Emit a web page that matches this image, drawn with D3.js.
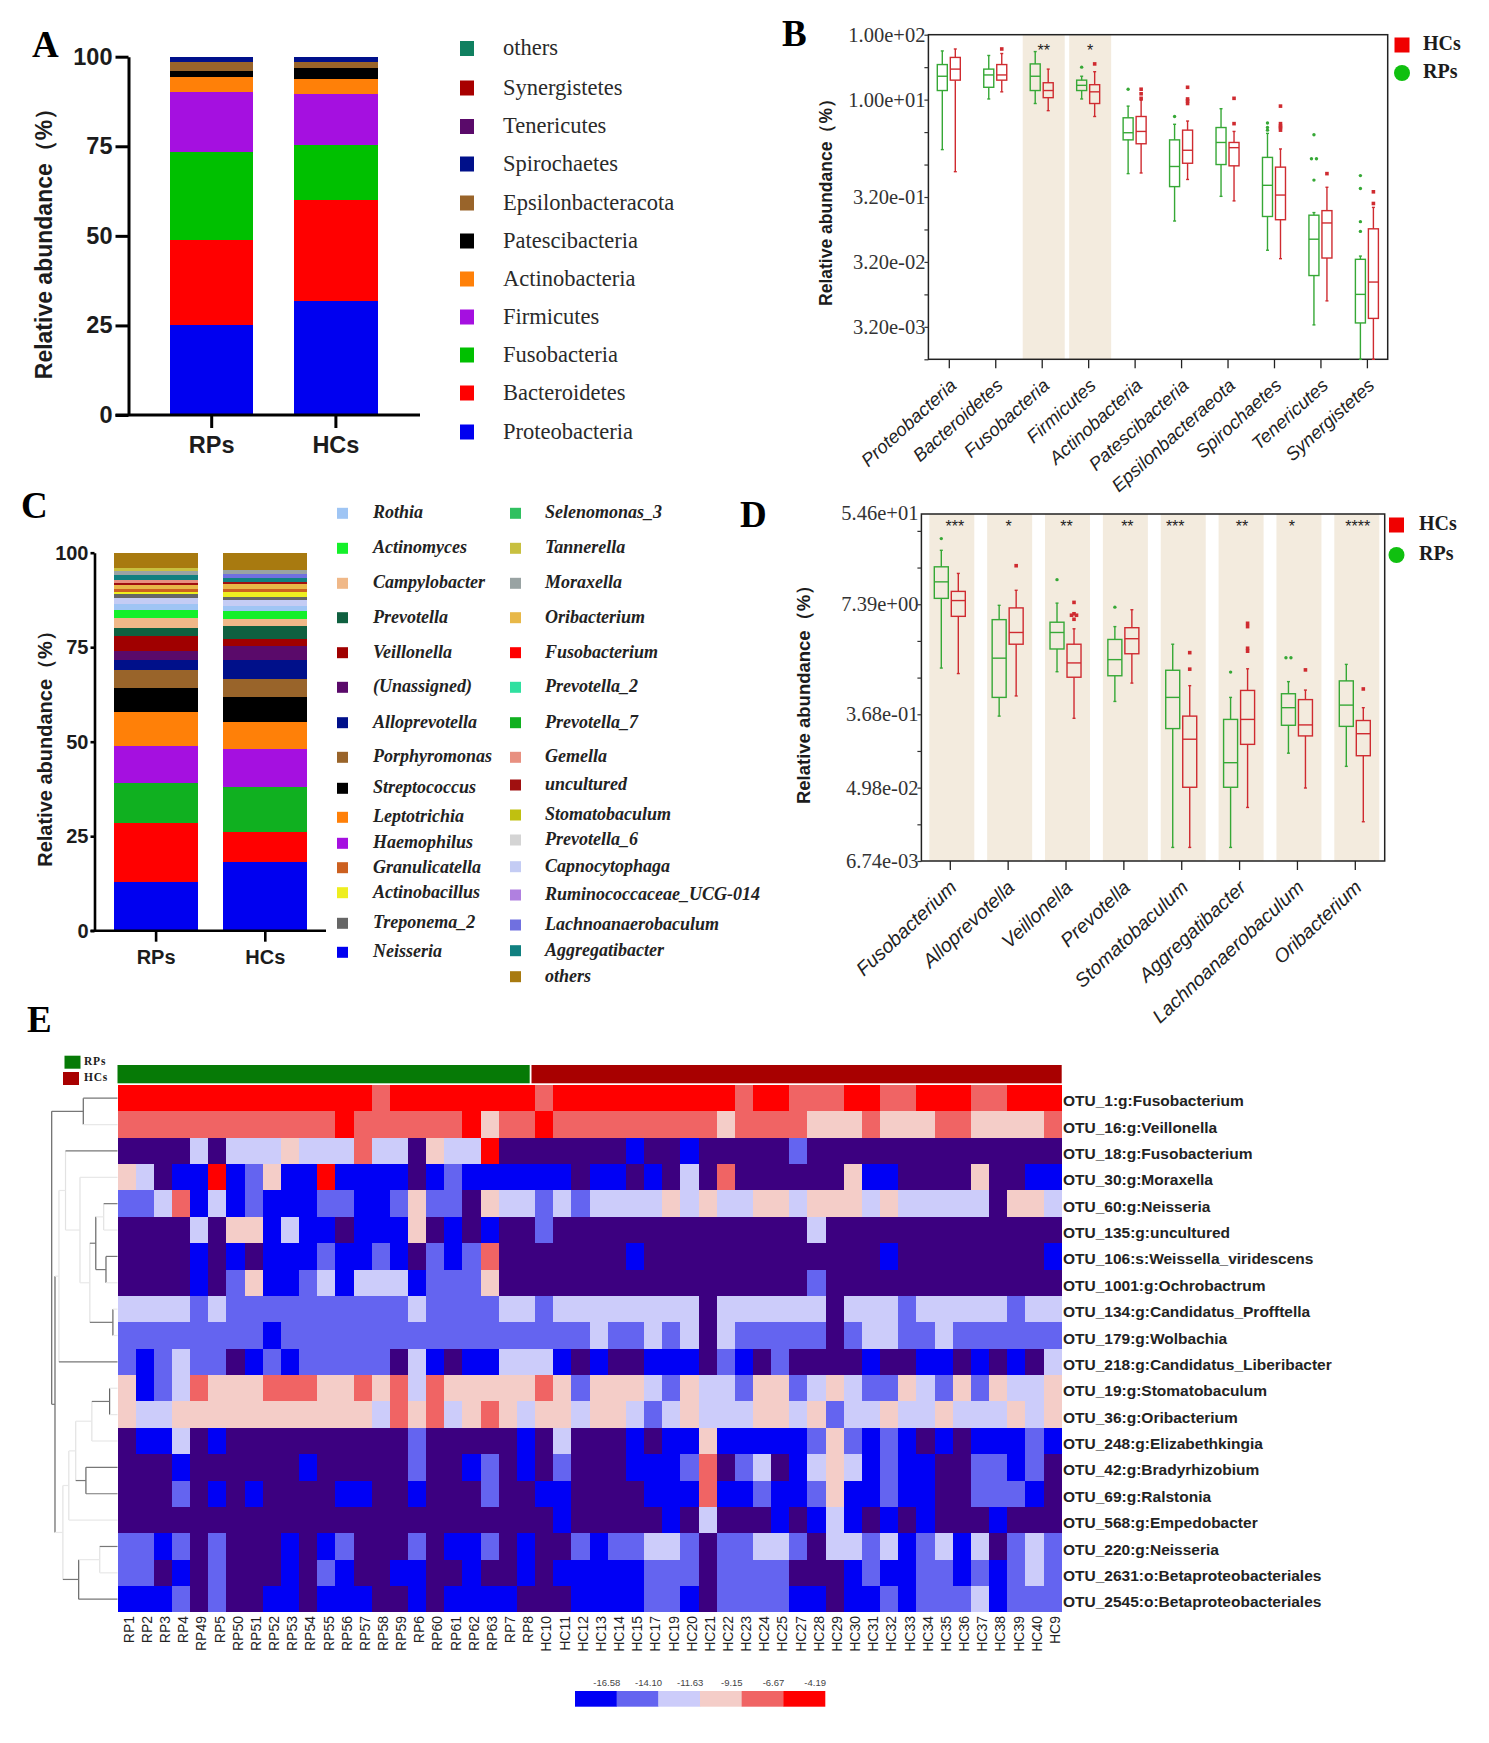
<!DOCTYPE html>
<html><head><meta charset="utf-8">
<script src="https://cdn.jsdelivr.net/npm/d3@7/dist/d3.min.js"></script>
<style>
html,body{margin:0;padding:0;background:#fff}
svg{display:block}
text{fill:#1c1c1c}
</style></head><body>
<svg id="fig" width="1489" height="1743"></svg>
<script>
// ---------- Panel A ----------
const groups = ["RPs","HCs"];
const phyla = ["Proteobacteria","Bacteroidetes","Fusobacteria","Firmicutes","Actinobacteria","Patescibacteria","Epsilonbacteracota","Spirochaetes","Tenericutes","Synergistetes","others"];
const phylaRP = [25,23.8,24.7,16.7,4.0,1.9,2.5,1.2,0.1,0.05,0.05];
const phylaHC = [31.8,28.1,15.4,14.3,4.3,2.9,1.8,1.2,0.1,0.05,0.05];
const phylaColors = ["#0000f0","#ff0000","#00c000","#a510e0","#ff8008","#000000","#99642a","#00108a","#5a0a6a","#a80000","#108060"];

// ---------- Panel B (log10 of relative abundance: upper whisker, Q3, median, Q1, lower whisker) ----------
const bCats = ["Proteobacteria","Bacteroidetes","Fusobacteria","Firmicutes","Actinobacteria","Patescibacteria","Epsilonbacteraeota","Spirochaetes","Tenericutes","Synergistetes"];
const bRP = [[1.75,1.54,1.36,1.14,0.23],[1.68,1.47,1.38,1.19,1.01],[1.74,1.55,1.36,1.14,0.94],[1.36,1.30,1.22,1.14,1.01],[0.90,0.72,0.49,0.38,-0.14],[0.62,0.38,-0.03,-0.34,-0.87],[0.86,0.57,0.34,0.00,-0.49],[0.48,0.11,-0.32,-0.80,-1.32],[-0.74,-0.78,-1.15,-1.71,-2.47],[-1.41,-1.46,-2.00,-2.44,-3.00]];
const bHC = [[1.78,1.65,1.47,1.30,-0.11],[1.71,1.54,1.38,1.30,1.12],[1.47,1.26,1.14,1.03,0.83],[1.43,1.23,1.12,0.94,0.74],[0.99,0.74,0.51,0.32,-0.13],[0.67,0.53,0.22,0.02,-0.23],[0.51,0.34,0.26,-0.02,-0.56],[0.24,-0.04,-0.47,-0.85,-1.45],[-0.35,-0.71,-0.90,-1.44,-2.10],[-0.66,-0.99,-1.81,-2.37,-3.00]];
const bRPOut = [[],[],[],[1.50],[1.16],[0.74],[],[0.64,0.57,0.53],[0.46,0.09,0.09,-0.24],[-0.17,-0.37,-0.88,-1.03]];
const bHCOut = [[],[1.78],[],[1.55],[1.16,1.09,1.02],[1.19,1.01,0.98,0.94],[1.02,0.63],[0.90,0.63,0.59,0.57,0.53],[-0.14],[-0.42,-0.60]];
const bShaded = ["Fusobacteria","Firmicutes"];
const bStars = ["","","**","*","","","","","",""];
const bTickExponents = [2,1.5,1,0.5,0,-0.5,-1,-1.5,-2,-2.5,-3];
const bTickLabels = {"2":"1.00e+02","1":"1.00e+01","-0.5":"3.20e-01","-1.5":"3.20e-02","-2.5":"3.20e-03"};

// ---------- Panel C ----------
const genera = ["Neisseria","Fusobacterium","Prevotella_7","Haemophilus","Leptotrichia","Streptococcus","Porphyromonas","Alloprevotella","(Unassigned)","Veillonella","Prevotella","Campylobacter","Actinomyces","Rothia","Capnocytophaga","Treponema_2","Actinobacillus","Granulicatella","Oribacterium","uncultured","Gemella","Aggregatibacter","Lachnoanaerobaculum","Moraxella","Tannerella","others"];
const generaRP = [13.0,15.6,10.4,9.9,9.0,6.2,4.8,2.6,2.5,4.0,2.2,2.5,2.2,1.6,1.5,1.0,0.7,0.6,1.15,0.6,0.7,1.23,0,1.24,0.7,4.08];
const generaHC = [18.2,7.9,12.0,9.9,7.1,6.7,4.8,4.9,3.7,2.1,3.2,1.9,2.2,1.3,1.6,0.8,1.4,0.7,1.2,0.56,0,1.04,1.26,1.04,0,4.5];
const legendC1 = ["Rothia","Actinomyces","Campylobacter","Prevotella","Veillonella","(Unassigned)","Alloprevotella","Porphyromonas","Streptococcus","Leptotrichia","Haemophilus","Granulicatella","Actinobacillus","Treponema_2","Neisseria"];
const legendC1Colors = ["#9fc5f4","#14f02a","#f0b888","#0f6040","#a00000","#5a0a6a","#00108a","#99642a","#000000","#ff8008","#a510e0","#cc6020","#eeee20","#666666","#0000f0"];
const legendC2 = ["Selenomonas_3","Tannerella","Moraxella","Oribacterium","Fusobacterium","Prevotella_2","Prevotella_7","Gemella","uncultured","Stomatobaculum","Prevotella_6","Capnocytophaga","Ruminococcaceae_UCG-014","Lachnoanaerobaculum","Aggregatibacter","others"];
const legendC2Colors = ["#30c060","#c8c040","#99a3a3","#e8b848","#ff0000","#30e0a0","#10b020","#e89080","#a01010","#c0c010","#d4d4d4","#c4ccf4","#b080e0","#7070e0","#108080","#a87a10"];
const legendC1Y = [513.3,548.3,583.3,617.7,652.7,687.3,722.7,757.3,788.3,817.3,843.3,867.7,892.7,923.3,952.3];
const legendC2Y = [513.3,548.3,583.3,617.7,652.7,687.3,722.7,757.3,785,815,840,866.7,895,925,950.7,976.7];

// ---------- Panel D (natural log of relative abundance) ----------
const dCats = ["Fusobacterium","Alloprevotella","Veillonella","Prevotella","Stomatobaculum","Aggregatibacter","Lachnoanaerobaculum","Oribacterium"];
const dRP = [[3.47,3.02,2.61,2.16,0.26],[1.97,1.58,0.53,-0.54,-1.05],[2.03,1.51,1.23,0.78,0.16],[1.39,1.04,0.49,0.05,-0.65],[0.91,0.20,-0.54,-1.39,-4.63],[-0.54,-1.14,-2.32,-2.99,-4.63],[-0.11,-0.44,-0.82,-1.30,-2.06],[0.36,-0.09,-0.75,-1.33,-2.42]];
const dHC = [[2.84,2.35,2.10,1.67,0.11],[2.38,1.90,1.23,0.91,-0.50],[1.33,0.91,0.40,0.01,-1.11],[1.85,1.36,1.06,0.65,-0.15],[-0.22,-1.05,-1.68,-2.99,-4.63],[0.24,-0.35,-1.14,-1.82,-3.54],[-0.34,-0.60,-1.29,-1.59,-3.01],[-0.82,-1.17,-1.53,-2.13,-3.93]];
const dRPOut = [[3.79],[],[2.67],[1.92],[],[0.15],[0.54,0.54],[]];
const dHCOut = [[],[3.05],[2.05,1.74,1.70,1.70,1.59],[],[0.68,0.23],[1.48,1.39,0.80,0.72],[0.21],[-0.31]];
const dStars = ["***","*","**","**","***","**","*","****"];
const dTickExponents = [4,3,2,1,0,-1,-2,-3,-4,-5];
const dTickLabels = {"4":"5.46e+01","2":"7.39e+00","-1":"3.68e-01","-3":"4.98e-02","-5":"6.74e-03"};

// ---------- Panel E ----------
const heatCols = ["RP1","RP2","RP3","RP4","RP49","RP5","RP50","RP51","RP52","RP53","RP54","RP55","RP56","RP57","RP58","RP59","RP6","RP60","RP61","RP62","RP63","RP7","RP8","HC10","HC11","HC12","HC13","HC14","HC15","HC17","HC19","HC20","HC21","HC22","HC23","HC24","HC25","HC27","HC28","HC29","HC30","HC31","HC32","HC33","HC34","HC35","HC36","HC37","HC38","HC39","HC40","HC9"];
const heatRows = ["OTU_1:g:Fusobacterium","OTU_16:g:Veillonella","OTU_18:g:Fusobacterium","OTU_30:g:Moraxella","OTU_60:g:Neisseria","OTU_135:g:uncultured","OTU_106:s:Weissella_viridescens","OTU_1001:g:Ochrobactrum","OTU_134:g:Candidatus_Profftella","OTU_179:g:Wolbachia","OTU_218:g:Candidatus_Liberibacter","OTU_19:g:Stomatobaculum","OTU_36:g:Oribacterium","OTU_248:g:Elizabethkingia","OTU_42:g:Bradyrhizobium","OTU_69:g:Ralstonia","OTU_568:g:Empedobacter","OTU_220:g:Neisseria","OTU_2631:o:Betaproteobacteriales","OTU_2545:o:Betaproteobacteriales"];
// binned level per cell: 0 = absent, 1..6 = colour-bar bins
const heatLevels = [
"66666666666666 5 66666666 5 6666666666 5 66 555 66 55 666 55 666",
"555555555555 6 555555 6 4 55 6 555555555 4 5555 444 5 444 55 4444 5",
"0000 3 0 333 4 333 5 33 0 4 33 6 000 0000 1 00 1 00000 2 00000000000000",
"4 3 0 11 6 1 2 4 11 6 1111 0 1 2 11111 1 0 11 0 1 0 3 0 5 000000 4 11 0000 4 00 11",
"22 3 5 1 3 1 2 111 22 11 2 4 22 0 4 33 2 3 2 3333 4 3 4 33 44 3 444 3 4 33333 0 44 3",
"0000 3 0 44 1 3 11 0 111 4 0 1 0 1 00 2 00000000000000 3 0000000000000",
"0000 1 0 1 0 111 2 11 2 1 0 2 1 2 5 000 0000 1 0000000000000 1 00000000 1",
"0000 1 0 2 4 11 2 3 1 333 1 222 4 000 00000000000000 2 0000000000000",
"3333 2 3 2222222222 3 2222 33 2 33333333 0 333333 0 333 2 33333 2 33",
"22222222 1 222222222222222 22 3 22 3 2 3 0 3 22222 0 2 33 22 3 222222",
"2 1 2 3 22 0 1 2 1 22222 0 3 1 0 11 333 1 0 1 00 111 0 2 1 0 2 0000 1 00 11 0 1 0 1 0 3",
"4 1 2 3 5 444 555 44 5 4 5 3 5 44444 5 4 2 444 3 2 4 33 2 44 2 3 4 3 22 4 3 2 4 2 4 33 4",
"4 33 44444444444 3 5 4 5 3 4 5 4 3 4 4 3 44 3 2 3 4 333 44 3 4 2 33 4 33 4 333 4 3 4",
"0 11 3 0 1 0000000000 2 00000 1 0 3 000 1 0 11 4 11111 2 4 2 1 2 1 0 1 0 111 2 1",
"000 1 000000 1 00000 2 00 1 2 0 1 0 2 000 111 2 5 0 2 3 0 1 3 4 3 1 2 11 00 22 1 2 0",
"000 2 0 1 0 1 0000 11 00 1 000 2 00 1 1 0000 111 5 11 2 11 2 4 11 2 11 00 222 1 0",
"000000000000000000000000 1 00000 1 0 3 000 1 0 1 3 1 0 1 0 1 000 1 000",
"22 1 2 0 2 000 1 0 1 2 000 2 0 11 2 0 1 0 0 2 1 22 33 2 0 22 33 2 0 33 2 3 1 2 3 1 3 0 2 3 2",
"22 0 1 0 2 000 1 0 2 1 00 11 00 1 00 1 0 11111 222 0 2222 000 1 2 11 22 1 2 1 2 3 2",
"111 2 0 2 00 11 0 111 00 1 0 1111 00 0 1111 22 1 0 2222 11 0 11 2 1 222 3 1 222"
].map(s => s.replace(/\s/g,"").split("").map(Number));
const heatBins = ["-16.58","-14.10","-11.63","-9.15","-6.67","-4.19"];
const heatColors = ["#3c0080","#0000f5","#6464f0","#ccccfa","#f4cdc8","#f06464","#ff0000"];
const groupSpans = [{name:"RPs",from:0,to:22.7,color:"#067a06"},{name:"HCs",from:22.8,to:52,color:"#a80000"}];
// row dendrogram: h = merge height, kids = sub-clusters or row indices
const N = (h,kids)=>({h,kids});
const rowTree = N(1.00,[
  N(.52,[0,1]),
  N(.95,[
    N(.89,[ N(.79,[2, N(.57,[3, N(.42,[ N(.33,[N(.21,[4,5]),N(.175,[6,7])]), N(.07,[8,9]) ]) ]) ]), 10 ]),
    N(.83,[ N(.74,[ N(.635,[ N(.39,[N(.12,[11,12]),13]), N(.48,[14,15]) ]), 16 ]), N(.59,[N(.27,[17,18]),19]) ])
  ])
]);
const darkHeights = [1,.95,.52,.175,.07,.48,.12,.59,.33];
const darkLeaves = [0,2,4,6,10,14,15,19,17];

// ========== drawing ==========
const svg = d3.select("#fig");
const SANS = "'Liberation Sans',Arial,sans-serif", SERIF = "'Liberation Serif','Times New Roman',serif";
const Y_TITLE = "Relative abundance（%）";
function panelLetter(t,x,y){ svg.append("text").text(t).attr("x",x).attr("y",y).attr("font-family",SERIF).attr("font-weight","bold").attr("font-size",37).style("fill","#000"); }
panelLetter("A",32,57); panelLetter("B",782,46); panelLetter("C",21,518); panelLetter("D",740,527); panelLetter("E",27,1032);

function stackedPanel(cfg){
  const g = svg.append("g");
  const y = d3.scaleLinear().domain([0,100]).range(cfg.yr);
  const x = d3.scaleBand().domain(groups).range(cfg.xr).paddingInner(cfg.pad).paddingOuter(cfg.pad/2);
  const rows = groups.map((n,i)=>{ const o={group:n}; cfg.names.forEach((s,k)=>o[s]=(i?cfg.hc:cfg.rp)[k]); return o; });
  const layers = d3.stack().keys(cfg.names)(rows);
  g.selectAll("g.l").data(layers).join("g").attr("fill",(d,i)=>cfg.colors[i])
    .selectAll("rect").data(d=>d).join("rect")
    .attr("x",d=>x(d.data.group)).attr("width",x.bandwidth())
    .attr("y",d=>y(d[1])).attr("height",d=>Math.max(0,y(d[0])-y(d[1]))).attr("shape-rendering","crispEdges");
  const ya = g.append("g").attr("transform",`translate(${cfg.ax},0)`)
    .call(d3.axisLeft(y).tickValues([0,25,50,75,100]).tickSize(cfg.yTick).tickSizeOuter(0));
  const xa = g.append("g").attr("transform",`translate(0,${cfg.yr[0]})`)
    .call(d3.axisBottom(x).tickSize(cfg.tick).tickSizeOuter(0));
  xa.select(".domain").attr("d",`M${cfg.ax-cfg.yTick},0H${cfg.xEnd}`);
  [ya,xa].forEach(a=>{ a.selectAll("path,line").attr("stroke","#000").attr("stroke-width",cfg.sw);
    a.selectAll("text").attr("font-family",SANS).attr("font-weight","bold").attr("font-size",cfg.fs); });
  ya.selectAll("text").attr("x",-cfg.yTick-cfg.yGap);
  xa.selectAll("text").attr("y",cfg.tick+8);
  g.append("text").text(Y_TITLE)
    .attr("transform",`translate(${cfg.labX},${(cfg.lab[0]+cfg.lab[1])/2}) rotate(-90)`)
    .attr("text-anchor","middle").attr("dominant-baseline","middle").attr("font-family",SANS).attr("font-weight","bold").attr("font-size",cfg.labFs);
  return g;
}
stackedPanel({names:phyla,rp:phylaRP,hc:phylaHC,colors:phylaColors,yr:[415,56.7],xr:[149.6,398],pad:.329,ax:128.5,tick:13,yTick:13,yGap:3,sw:3,xEnd:420,fs:23.5,labX:46,lab:[97,379],labFs:23});
stackedPanel({names:genera,rp:generaRP,hc:generaHC,
  colors:genera.map(n=>{const a=legendC1.indexOf(n); if(a>=0)return legendC1Colors[a]; return legendC2Colors[legendC2.indexOf(n)];}),
  yr:[930.7,552.7],xr:[101.5,319.9],pad:.229,ax:94.5,tick:11,yTick:4,yGap:2,sw:2.6,xEnd:326,fs:20,labX:47,lab:[623,865],labFs:20});

// legend A
const legendAY = [50,89.5,128,165.5,204.5,242.5,280.5,318.5,356.5,394.5,433.5];
const legendAOrder = phyla.slice().reverse();
svg.append("g").selectAll("g").data(legendAOrder).join("g").attr("transform",(d,i)=>`translate(0,${legendAY[i]})`)
  .each(function(d){ const s=d3.select(this), i=phyla.indexOf(d);
    s.append("rect").attr("x",460).attr("y",-9).attr("width",14).attr("height",15).attr("fill",phylaColors[i]);
    s.append("text").text(d).attr("x",503).attr("dominant-baseline","middle").attr("font-family",SERIF).attr("font-size",22.5).style("fill","#2a2a2a");
  });
// legend C
function legendC(names,colors,ys,sx,tx){
  svg.append("g").selectAll("g").data(names).join("g").attr("transform",(d,i)=>`translate(0,${ys[i]})`)
   .each(function(d,i){ const s=d3.select(this);
    s.append("rect").attr("x",sx).attr("y",-5.5).attr("width",11).attr("height",11).attr("fill",colors[i]);
    s.append("text").text(d).attr("x",tx).attr("y",1).attr("dominant-baseline","middle").attr("font-family",SERIF).attr("font-style","italic").attr("font-weight","bold").attr("font-size",18).style("fill","#222");
   });
}
legendC(legendC1,legendC1Colors,legendC1Y,337,373);
legendC(legendC2,legendC2Colors,legendC2Y,510,545);

// box panels
const GREEN="#36a836", RED="#cf2b30";
function boxPanel(c){
  const g = svg.append("g");
  const y = d3.scaleLog().base(c.base).domain(c.domain.map(e=>Math.pow(c.base,e))).range(c.yr);
  const yv = e => y(Math.pow(c.base,e));
  const x = d3.scalePoint().domain(c.cats).range(c.xr);
  // shaded significance bands
  g.selectAll("rect.band").data(c.cats.filter(c.isShaded)).join("rect").attr("class","band")
    .attr("x",d=>x(d)+c.bandOff-c.bandW/2).attr("width",c.bandW).attr("y",c.yr[1]).attr("height",c.yr[0]-c.yr[1]).attr("fill","#f3ebde");
  // frame + axes
  g.append("rect").attr("x",c.frame[0]).attr("y",c.yr[1]).attr("width",c.frame[1]-c.frame[0]).attr("height",c.yr[0]-c.yr[1]).attr("fill","none").attr("stroke","#222").attr("stroke-width",1.5);
  const ya = g.append("g").attr("transform",`translate(${c.frame[0]},0)`)
    .call(d3.axisLeft(y).tickValues(c.tickExp.map(e=>Math.pow(c.base,e))).tickSize(4).tickSizeOuter(0)
      .tickFormat((v,i)=>c.tickLabels[String(c.tickExp[i])]||""));
  ya.select(".domain").remove();
  ya.selectAll("line").attr("stroke","#333").attr("stroke-width",1.2);
  ya.selectAll("text").attr("font-family",SERIF).attr("font-size",c.tickFs).attr("x",-3).style("fill","#333")
    .attr("dy",(v,i)=>c.tickExp[i]===c.topExp?c.topDy:"0.32em");
  const xa = g.append("g").attr("transform",`translate(0,${c.yr[0]})`).call(d3.axisBottom(x).tickSize(9).tickSizeOuter(0));
  xa.select(".domain").remove();
  xa.selectAll("line").attr("stroke","#222").attr("stroke-width",1.3);
  xa.selectAll("text").attr("font-family",SANS).attr("font-size",c.labFs).attr("font-style","italic").attr("text-anchor","end").attr("y",0).attr("dy","0.35em")
    .attr("transform",`translate(${c.labDx},${c.labDy}) rotate(${c.labRot})`).style("fill","#222");
  // boxes
  [[c.rp,c.rpOut,-c.dodge,GREEN,"circle"],[c.hc,c.hcOut,c.dodge,RED,"square"]].forEach(([stats,outs,off,col,shape])=>{
    const s = g.append("g").attr("stroke",col).attr("fill","none").attr("stroke-width",1.4);
    c.cats.forEach((cat,i)=>{
      const [wh,q3,med,q1,wl]=stats[i], cx=x(cat)+off, w=c.boxW;
      s.append("line").attr("x1",cx).attr("x2",cx).attr("y1",yv(wh)).attr("y2",yv(q3));
      s.append("line").attr("x1",cx).attr("x2",cx).attr("y1",yv(q1)).attr("y2",yv(wl));
      [wh,wl].forEach(v=>s.append("line").attr("x1",cx-1.5).attr("x2",cx+1.5).attr("y1",yv(v)).attr("y2",yv(v)));
      s.append("rect").attr("x",cx-w/2).attr("width",w).attr("y",yv(q3)).attr("height",yv(q1)-yv(q3));
      s.append("line").attr("x1",cx-w/2).attr("x2",cx+w/2).attr("y1",yv(med)).attr("y2",yv(med));
      outs[i].forEach((v,k)=>{
        const dup = outs[i].filter(u=>u===v).length>1, ox = dup ? (outs[i].indexOf(v)===k?-2.5:2.5) : 0;
        if(shape==="circle") g.append("circle").attr("cx",cx+ox).attr("cy",yv(v)).attr("r",1.7).attr("fill",col);
        else g.append("rect").attr("x",cx+ox-1.8).attr("y",yv(v)-1.8).attr("width",3.6).attr("height",3.6).attr("fill",col);
      });
    });
  });
  // significance stars
  g.selectAll("text.star").data(c.cats).join("text").attr("class","star").text((d,i)=>c.stars[i])
    .attr("x",(d,i)=>x(d)+c.starOff[i]).attr("y",c.starY).attr("text-anchor","middle").attr("font-family",SANS).attr("font-size",c.starFs).style("fill","#222");
  // y title
  g.append("text").text(Y_TITLE).attr("transform",`translate(${c.titleX},${c.titleY}) rotate(-90)`)
    .attr("text-anchor","middle").attr("dominant-baseline","middle").attr("font-family",SANS).attr("font-weight","bold").attr("font-size",c.titleFs);
  // legend
  g.append("rect").attr("x",c.leg[0]).attr("y",c.leg[1]-7.5).attr("width",15).attr("height",15).attr("fill","#f00000");
  g.append("circle").attr("cx",c.leg[0]+7.5).attr("cy",c.leg[2]).attr("r",8).attr("fill","#10c010");
  [["HCs",c.leg[1]],["RPs",c.leg[2]]].forEach(([t,ly])=>g.append("text").text(t).attr("x",c.leg[3]).attr("y",ly).attr("dominant-baseline","middle")
     .attr("font-family",SERIF).attr("font-weight","bold").attr("font-size",20));
}
boxPanel({base:10,domain:[-3,2],yr:[359.3,34.7],frame:[928.4,1387.7],cats:bCats,xr:[948.8,1366.9],rp:bRP,hc:bHC,rpOut:bRPOut,hcOut:bHCOut,
  isShaded:d=>bShaded.includes(d),bandOff:2,bandW:42,tickExp:bTickExponents,tickLabels:bTickLabels,topExp:null,topDy:0,tickFs:20.5,
  labFs:18.5,labDx:4,labDy:23,labRot:-42,dodge:6.5,boxW:10,stars:bStars,starOff:bCats.map(()=>2),starY:56,starFs:16,
  titleX:827,titleY:198,titleFs:17.5,leg:[1394.5,45,73,1423]});
boxPanel({base:Math.E,domain:[-5,4.46],yr:[861,514],frame:[921.4,1384.7],cats:dCats,xr:[949.8,1354.8],rp:dRP,hc:dHC,rpOut:dRPOut,hcOut:dHCOut,
  isShaded:()=>true,bandOff:2,bandW:45,tickExp:dTickExponents,tickLabels:dTickLabels,topExp:4,topDy:"-0.55em",tickFs:20.5,
  labFs:19.5,labDx:3,labDy:23,labRot:-43,dodge:8.5,boxW:14,stars:dStars,starOff:[5,1,1,4,-6,3,-5,3],starY:532,starFs:16,
  titleX:805,titleY:690,titleFs:18.5,leg:[1389,525,555,1419]});

// heatmap
const H = svg.append("g");
const xH = d3.scaleBand().domain(heatCols).range([117.5,1061.7]);
const yH = d3.scaleBand().domain(heatRows).range([1085,1612.4]);
const colIndex = d3.scaleLinear().domain([0,heatCols.length]).range([117.5,1061.7]);
const colorH = d3.scaleOrdinal().domain(d3.range(7)).range(heatColors);
H.selectAll("rect.gb").data(groupSpans).join("rect").attr("class","gb")
  .attr("x",d=>colIndex(d.from)).attr("width",d=>colIndex(d.to)-colIndex(d.from)).attr("y",1065).attr("height",18.3).attr("fill",d=>d.color);
heatLevels.forEach((row,r)=>{
  H.append("g").attr("shape-rendering","crispEdges").selectAll("rect").data(row).join("rect")
    .attr("x",(d,c)=>xH(heatCols[c])).attr("y",yH(heatRows[r])).attr("width",xH.bandwidth()).attr("height",yH.bandwidth())
    .attr("fill",d=>colorH(d));
});
H.selectAll("text.rl").data(heatRows).join("text").attr("class","rl").text(d=>d).attr("x",1063).attr("y",d=>yH(d)+yH.bandwidth()/2+4)
  .attr("dominant-baseline","middle").attr("font-family",SANS).attr("font-weight","bold").attr("font-size",15.5).style("fill","#222");
H.selectAll("text.cl").data(heatCols).join("text").attr("class","cl").text(d=>d)
  .attr("transform",d=>`translate(${xH(d)+xH.bandwidth()/2+3.5},1616) rotate(-90)`).attr("text-anchor","end").attr("dominant-baseline","middle")
  .attr("font-family",SANS).attr("font-size",14).style("fill","#222");
// group key
[["RPs",64.5,1055.7,"#067a06"],["HCs",63,1072,"#a80000"]].forEach(([t,kx,ky,col])=>{
  H.append("rect").attr("x",kx).attr("y",ky).attr("width",16).attr("height",13).attr("fill",col);
  H.append("text").text(t).attr("x",84).attr("y",ky+6.5).attr("dominant-baseline","middle").attr("font-family",SERIF).attr("font-weight","bold").attr("font-size",11.5).attr("letter-spacing",.8);
});
// dendrogram
const xD = d3.scaleLinear().domain([0,1]).range([117.5,51.7]);
const dg = H.append("g").attr("fill","none").attr("stroke-width",1.2);
function place(n){
  if(typeof n==="number") return {y:yH(heatRows[n])+yH.bandwidth()/2, x:xD(0), leaf:n};
  const ks=n.kids.map(place), y=d3.mean(ks,k=>k.y), x=xD(n.h), dark=darkHeights.includes(n.h);
  dg.append("line").attr("x1",x).attr("x2",x).attr("y1",ks[0].y).attr("y2",ks[1].y).attr("stroke",dark?"#666":"#e2e2e2");
  ks.forEach(k=>{
    const d = k.leaf!==undefined ? darkLeaves.includes(k.leaf) : k.dark;
    dg.append("line").attr("x1",x).attr("x2",k.x).attr("y1",k.y).attr("y2",k.y).attr("stroke",d?"#777":"#e8e8e8");
  });
  return {x,y,dark};
}
place(rowTree);
// colour bar
const xC = d3.scaleBand().domain(heatBins).range([575,825]);
H.selectAll("rect.cb").data(heatBins).join("rect").attr("class","cb").attr("x",d=>xC(d)).attr("width",xC.bandwidth()+.3).attr("y",1691).attr("height",15.7).attr("fill",(d,i)=>colorH(i+1));
H.selectAll("text.cb").data(heatBins).join("text").attr("class","cb").text(d=>d).attr("x",d=>xC(d)+xC.bandwidth()/2+11).attr("y",1683)
  .attr("text-anchor","middle").attr("dominant-baseline","middle").attr("font-family",SANS).attr("font-size",9.5).style("fill","#444");
</script>
</body></html>
